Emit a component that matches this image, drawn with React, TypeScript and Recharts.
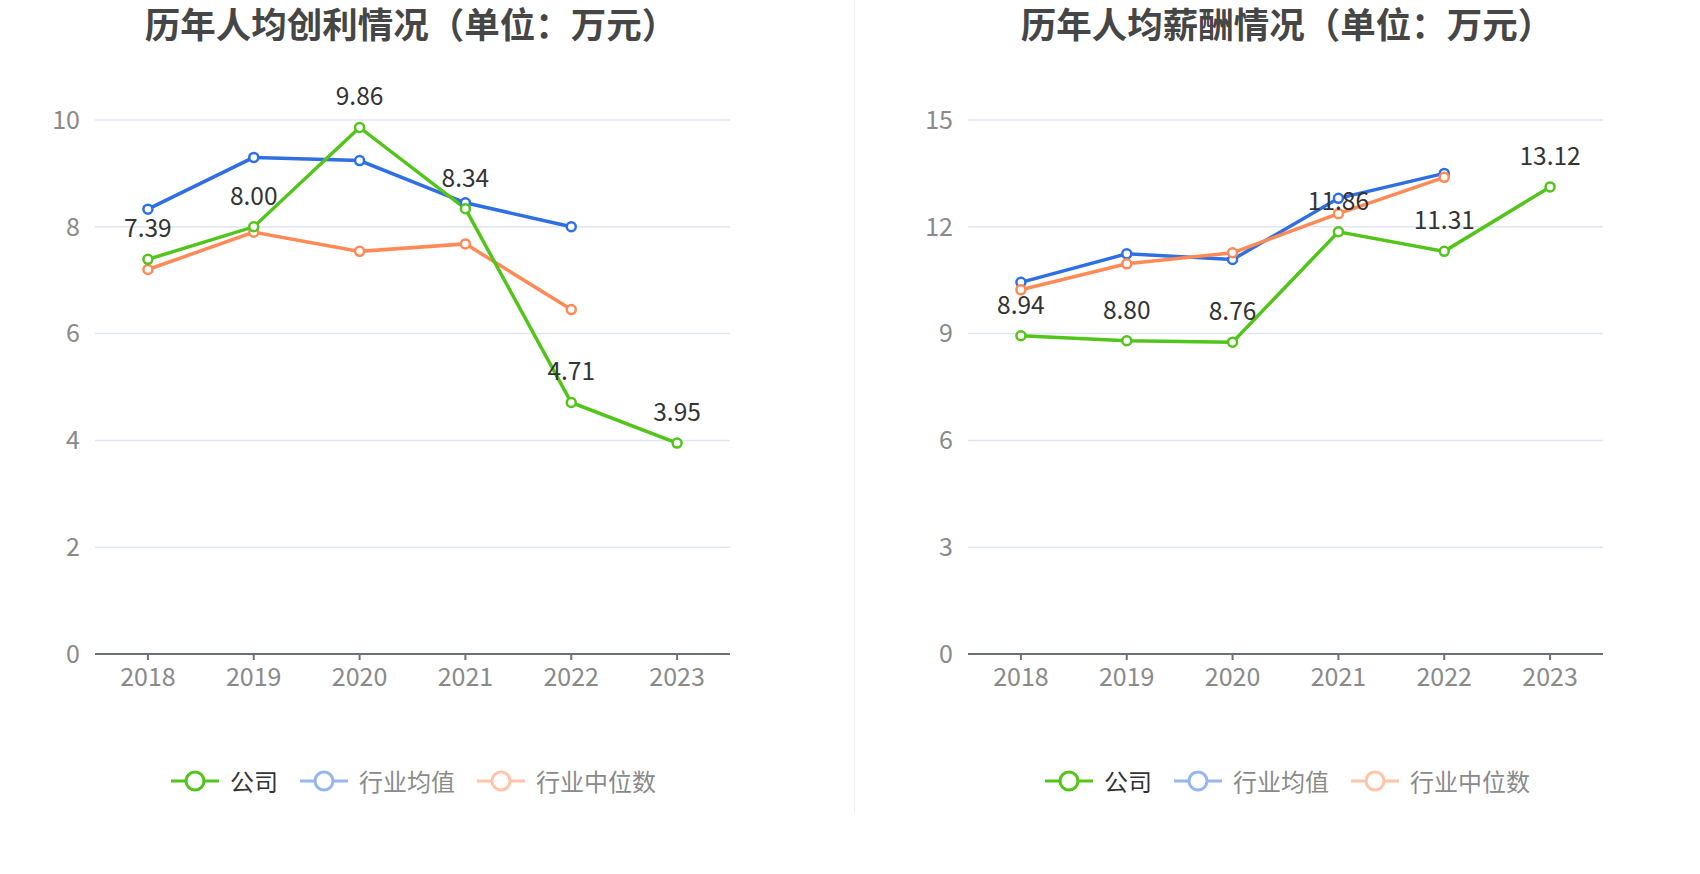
import { LineChart, Line, XAxis, YAxis, CartesianGrid, LabelList } from 'recharts';

const YEARS = ['2018', '2019', '2020', '2021', '2022', '2023'];

const PROFIT_COMPANY = [7.39, 8.0, 9.86, 8.34, 4.71, 3.95];
const PROFIT_AVG = [8.33, 9.3, 9.24, 8.45, 8.0, null];
const PROFIT_MEDIAN = [7.2, 7.9, 7.54, 7.68, 6.45, null];
const PROFIT_TICKS = [0, 2, 4, 6, 8, 10];

const SALARY_COMPANY = [8.94, 8.8, 8.76, 11.86, 11.31, 13.12];
const SALARY_AVG = [10.44, 11.24, 11.08, 12.8, 13.5, null];
const SALARY_MEDIAN = [10.23, 10.96, 11.27, 12.37, 13.39, null];
const SALARY_TICKS = [0, 3, 6, 9, 12, 15];

const SERIES_NAMES = ['公司', '行业均值', '行业中位数'];

const GREEN = '#52c41a';
const BLUE = '#2f6fe4';
const ORANGE = '#ff8a56';
const FONT = '"Noto Sans CJK SC", "Noto Sans", sans-serif';

function buildRows(company: number[], avg: (number | null)[], median: (number | null)[]) {
  return YEARS.map((year, i) => ({ year, company: company[i], avg: avg[i], median: median[i] }));
}

function TrendChart({
  title,
  rows,
  ticks,
  left,
  width,
  marginLeft,
  marginRight,
  titleCenter,
  legendLeft,
}: any) {
  const dot = (color: string) => ({ r: 4.5, fill: '#fff', stroke: color, strokeWidth: 2.5 });
  // half a category band, so points sit in the middle of each year slot
  const halfBand = (width - marginLeft - 60 - marginRight) / YEARS.length / 2;
  return (
    <div style={{ position: 'absolute', left, top: 0, width, height: 874 }}>
      <div
        style={{
          position: 'absolute',
          left: titleCenter - left - 400,
          top: 1,
          width: 800,
          textAlign: 'center',
          fontSize: 35.5,
          lineHeight: '44px',
          fontWeight: 'bold',
          color: '#464646',
        }}
      >
        {title}
      </div>
      <LineChart
        width={width}
        height={874}
        data={rows}
        margin={{ top: 120, right: marginRight, bottom: 190, left: marginLeft }}
      >
        <CartesianGrid stroke="#e0e6f1" strokeWidth={1.5} vertical={false} />
        <XAxis
          dataKey="year"
          height={30}
          padding={{ left: halfBand, right: halfBand }}
          tick={{ fill: '#8a8a8a', fontSize: 25 }}
          tickMargin={8}
          tickSize={6}
          axisLine={{ stroke: '#6e7079', strokeWidth: 2 }}
          tickLine={{ stroke: '#6e7079', strokeWidth: 2 }}
        />
        <YAxis
          width={60}
          domain={[0, ticks[ticks.length - 1]]}
          ticks={ticks}
          interval={0}
          tick={{ fill: '#8a8a8a', fontSize: 25 }}
          tickMargin={9}
          axisLine={false}
          tickLine={false}
        />
        <Line
          dataKey="avg"
          stroke={BLUE}
          strokeWidth={3.5}
          dot={dot(BLUE)}
          isAnimationActive={false}
        />
        <Line
          dataKey="median"
          stroke={ORANGE}
          strokeWidth={3.5}
          dot={dot(ORANGE)}
          isAnimationActive={false}
        />
        <Line
          dataKey="company"
          stroke={GREEN}
          strokeWidth={3.5}
          dot={dot(GREEN)}
          isAnimationActive={false}
        >
          <LabelList
            dataKey="company"
            position="top"
            offset={22}
            fill="#333"
            fontSize={24.5}
            formatter={(v: any) => Number(v).toFixed(2)}
          />
        </Line>
      </LineChart>
      <Legend left={legendLeft - left} />
    </div>
  );
}

function Legend({ left }: { left: number }) {
  const colors = [GREEN, BLUE, ORANGE];
  return (
    <div
      style={{
        position: 'absolute',
        left,
        top: 766,
        height: 30,
        display: 'flex',
        alignItems: 'center',
        fontSize: 24,
      }}
    >
      {SERIES_NAMES.map((name, i) => (
        <div key={name} style={{ display: 'flex', alignItems: 'center', marginRight: 22 }}>
          <svg width={48} height={26} style={{ opacity: i === 0 ? 1 : 0.5 }}>
            <line x1={0} y1={13} x2={48} y2={13} stroke={colors[i]} strokeWidth={3} />
            <circle cx={24} cy={13} r={9} fill="#fff" stroke={colors[i]} strokeWidth={3} />
          </svg>
          <span style={{ marginLeft: 11, color: i === 0 ? '#333' : '#8a8a8a', lineHeight: '30px' }}>
            {name}
          </span>
        </div>
      ))}
    </div>
  );
}

export default function App() {
  return (
    <div
      style={{
        position: 'absolute',
        left: 0,
        top: 0,
        width: 1700,
        height: 874,
        background: '#fff',
        fontFamily: FONT,
      }}
    >
      <TrendChart
        title="历年人均创利情况（单位：万元）"
        rows={buildRows(PROFIT_COMPANY, PROFIT_AVG, PROFIT_MEDIAN)}
        ticks={PROFIT_TICKS}
        left={0}
        width={850}
        marginLeft={35}
        marginRight={120}
        titleCenter={411}
        legendLeft={171}
      />
      <div style={{ position: 'absolute', left: 854, top: 0, width: 1, height: 813, background: '#f0f0f0' }} />
      <TrendChart
        title="历年人均薪酬情况（单位：万元）"
        rows={buildRows(SALARY_COMPANY, SALARY_AVG, SALARY_MEDIAN)}
        ticks={SALARY_TICKS}
        left={854}
        width={846}
        marginLeft={54}
        marginRight={97}
        titleCenter={1287}
        legendLeft={1045}
      />
    </div>
  );
}
